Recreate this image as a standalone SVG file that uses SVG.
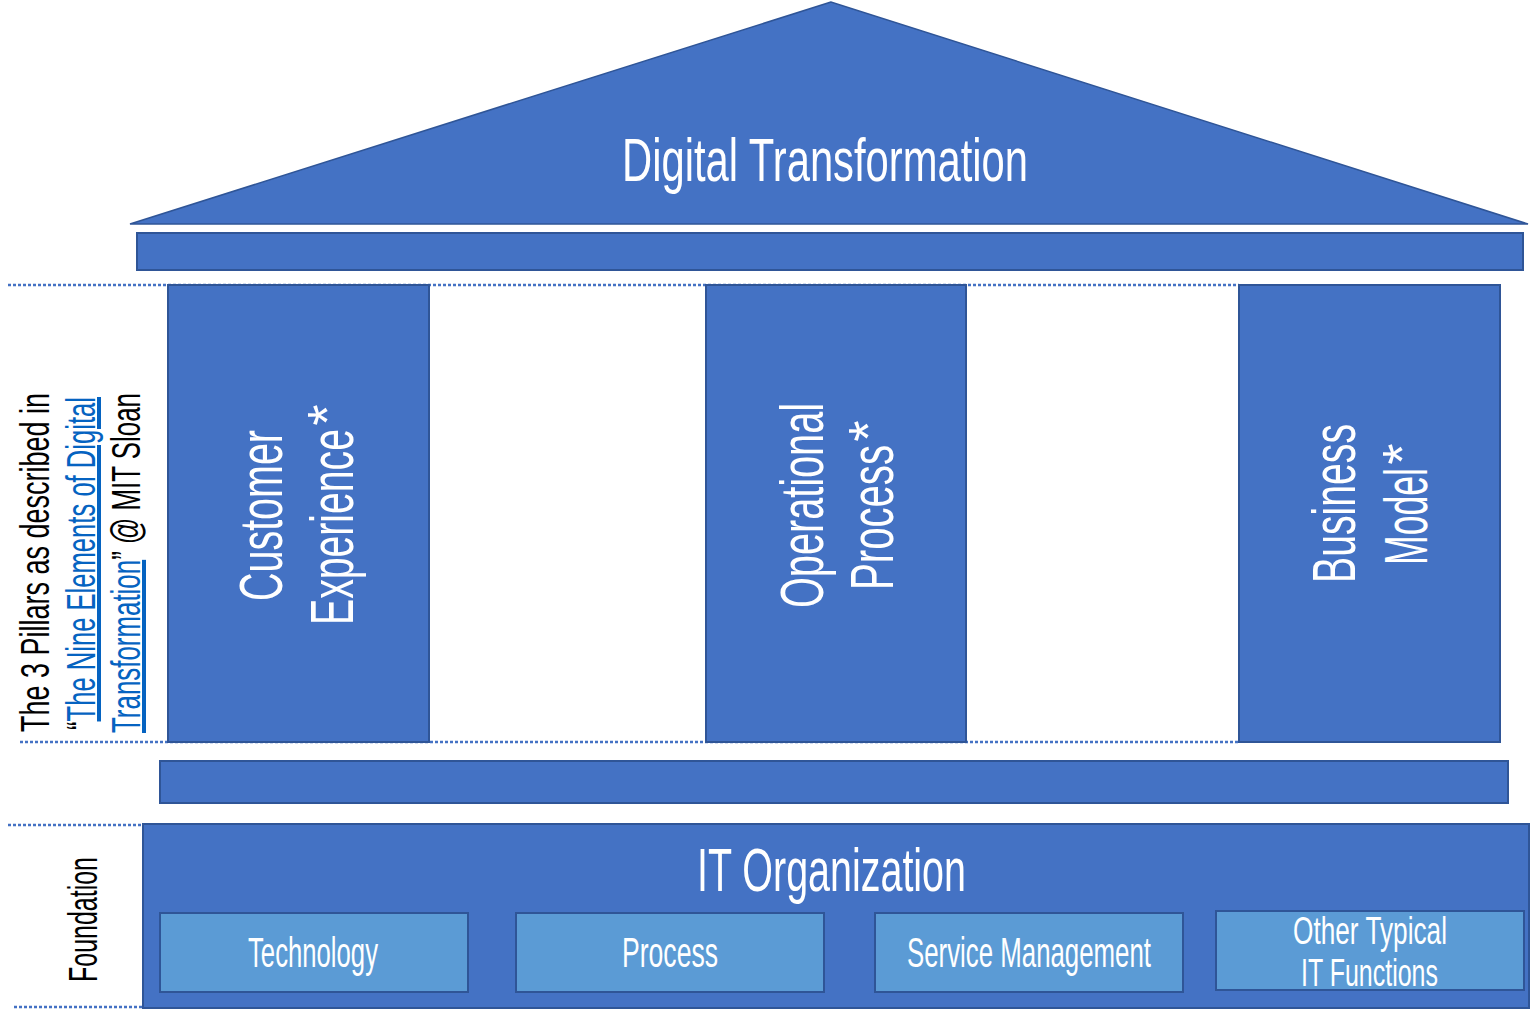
<svg xmlns="http://www.w3.org/2000/svg" width="1531" height="1019" viewBox="0 0 1531 1019">
<style>
.shape{fill:#4472C4;stroke:#2F5597;stroke-width:2}
.box{fill:#5B9BD5;stroke:#2F5597;stroke-width:2}
.guide{fill:none;stroke:#4472C4;stroke-width:2.5;stroke-dasharray:3 2}
.w{fill:#FFFFFF;font-family:"Liberation Sans",Arial,sans-serif}
.k{fill:#000000;font-family:"Liberation Sans",Arial,sans-serif;font-size:40px}
.lnk{fill:#0563C1;text-decoration:underline}
</style>
<rect width="1531" height="1019" fill="#FFFFFF"/>
<g id="guides">
<line class="guide" x1="8" y1="285" x2="1239" y2="285"/>
<line class="guide" x1="20" y1="742" x2="1239" y2="742"/>
<line class="guide" x1="8" y1="825" x2="160" y2="825"/>
<line class="guide" x1="14" y1="1007" x2="166" y2="1007"/>
</g>
<g id="roof">
<polygon class="shape" style="stroke-width:1.5" points="831,2 130,224 1528,224"/>
<text class="w" x="622" y="181" font-size="61" textLength="406" lengthAdjust="spacingAndGlyphs">Digital Transformation</text>
</g>
<g id="upper-beam">
<rect class="shape" x="137" y="233" width="1386" height="37"/>
</g>
<g id="pillar-customer-experience">
<rect class="shape" x="168" y="285" width="261" height="457"/>
<text class="w" font-size="61" transform="translate(282,601) rotate(-90)" textLength="171" lengthAdjust="spacingAndGlyphs">Customer</text>
<text class="w" font-size="61" transform="translate(353,625) rotate(-90)" textLength="196" lengthAdjust="spacingAndGlyphs">Experience</text>
<text class="w" font-size="55" text-anchor="middle" transform="translate(346,415) rotate(-90)">*</text>
</g>
<g id="pillar-operational-process">
<rect class="shape" x="706" y="285" width="260" height="457"/>
<text class="w" font-size="61" transform="translate(823,608) rotate(-90)" textLength="205" lengthAdjust="spacingAndGlyphs">Operational</text>
<text class="w" font-size="61" transform="translate(893,590) rotate(-90)" textLength="145" lengthAdjust="spacingAndGlyphs">Process</text>
<text class="w" font-size="55" text-anchor="middle" transform="translate(887,431) rotate(-90)">*</text>
</g>
<g id="pillar-business-model">
<rect class="shape" x="1239" y="285" width="261" height="457"/>
<text class="w" font-size="61" transform="translate(1355,583) rotate(-90)" textLength="159" lengthAdjust="spacingAndGlyphs">Business</text>
<text class="w" font-size="61" transform="translate(1427,565) rotate(-90)" textLength="97" lengthAdjust="spacingAndGlyphs">Model</text>
<text class="w" font-size="55" text-anchor="middle" transform="translate(1421,454) rotate(-90)">*</text>
</g>
<g id="lower-beam">
<rect class="shape" x="160" y="761" width="1348" height="42"/>
</g>
<g id="foundation">
<rect class="shape" x="143" y="824" width="1386" height="184"/>
<text class="w" x="697" y="891" font-size="61" textLength="269" lengthAdjust="spacingAndGlyphs">IT Organization</text>
</g>
<g id="technology">
<rect class="box" x="160" y="913" width="308" height="79"/>
<text class="w" x="248" y="967" font-size="42" textLength="130" lengthAdjust="spacingAndGlyphs">Technology</text>
</g>
<g id="process">
<rect class="box" x="516" y="913" width="308" height="79"/>
<text class="w" x="622" y="967" font-size="42" textLength="96" lengthAdjust="spacingAndGlyphs">Process</text>
</g>
<g id="service-management">
<rect class="box" x="875" y="913" width="308" height="79"/>
<text class="w" x="907" y="967" font-size="42" textLength="244" lengthAdjust="spacingAndGlyphs">Service Management</text>
</g>
<g id="other-it-functions">
<rect class="box" x="1216" y="911" width="308" height="79"/>
<text class="w" x="1293" y="944" font-size="39" textLength="154" lengthAdjust="spacingAndGlyphs">Other Typical</text>
<text class="w" x="1301" y="986" font-size="39" textLength="137" lengthAdjust="spacingAndGlyphs">IT Functions</text>
</g>
<g id="pillars-label">
<text class="k" transform="translate(49,732) rotate(-90)" textLength="339" lengthAdjust="spacingAndGlyphs">The 3 Pillars as described in</text>
<text class="k" transform="translate(95,730) rotate(-90)" textLength="333" lengthAdjust="spacingAndGlyphs">“<tspan class="lnk">The Nine Elements of Digital</tspan></text>
<text class="k" transform="translate(140,733) rotate(-90)" textLength="340" lengthAdjust="spacingAndGlyphs"><tspan class="lnk">Transformation</tspan>” @ MIT Sloan</text>
</g>
<g id="foundation-label">
<text class="k" transform="translate(97,982) rotate(-90)" textLength="125" lengthAdjust="spacingAndGlyphs">Foundation</text>
</g>
</svg>
